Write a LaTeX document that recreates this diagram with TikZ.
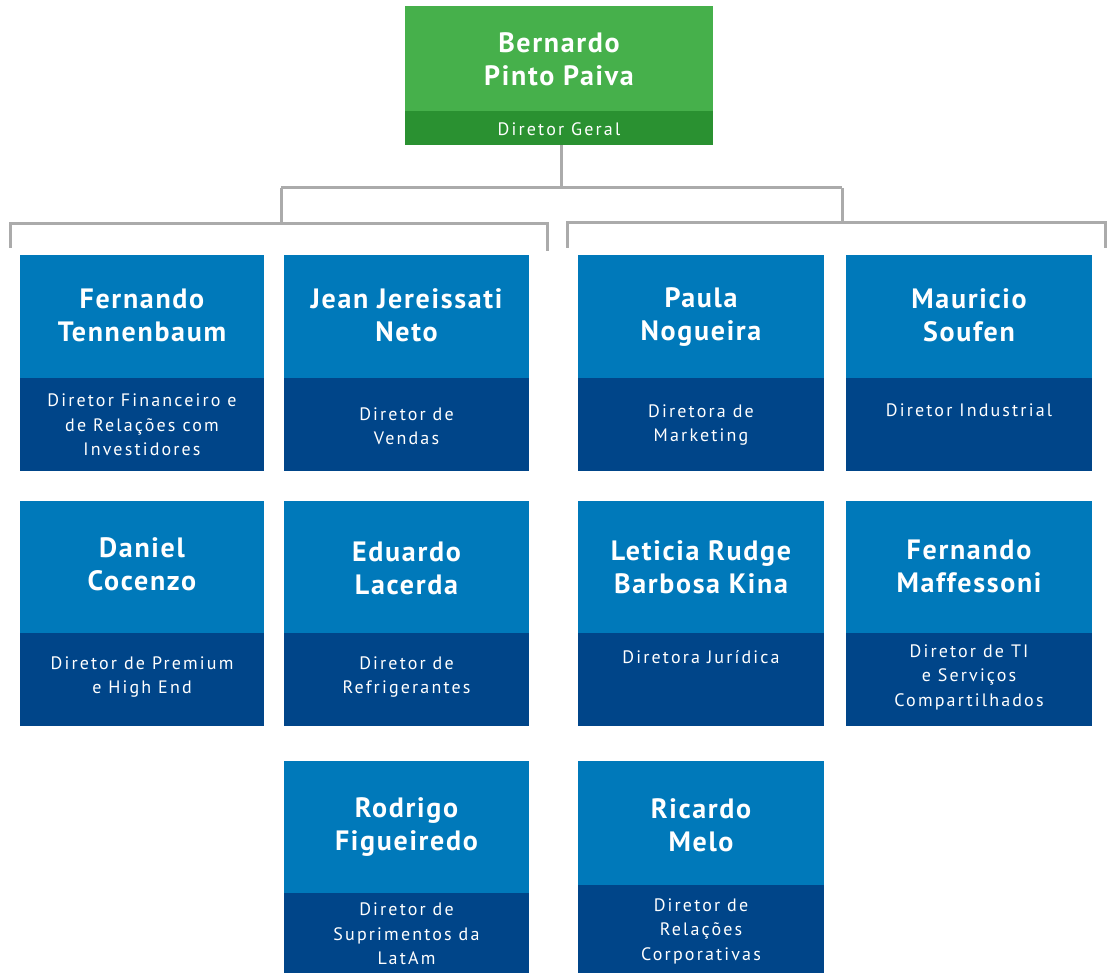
\documentclass[tikz,border=0pt]{standalone}
\usepackage{fontspec}
\setmainfont{PT Sans}
\newfontfamily\namefont{PT Sans}[LetterSpace=6]
\newfontfamily\subfont{PT Sans}[LetterSpace=12]
\definecolor{gtop}{HTML}{46B04B}
\definecolor{gband}{HTML}{2A9131}
\definecolor{btop}{HTML}{0079BA}
\definecolor{bband}{HTML}{004589}
\definecolor{conn}{HTML}{ABABAB}
\tikzset{
  topbox/.style={fill=#1, draw=none, inner sep=0, anchor=north west},
  nametext/.style={text=white, align=center, font=\namefont\bfseries\fontsize{28}{33}\selectfont, inner sep=0},
  subtext/.style={text=white, align=center, font=\subfont\fontsize{18}{24.5}\selectfont, inner sep=0},
  connector/.style={draw=conn, line width=3pt}
}
% \person{id}{x1}{x2}{ytop}{ymid}{ybot}{name}{namey}{sub}{suby}
\newcommand{\person}[9]{%
  \node[topbox=btop, minimum width=#3-#2, minimum height=#5-#4] (#1n) at (#2,#4) {};
  \node[topbox=bband, minimum width=#3-#2, minimum height=#6-#5] (#1b) at (#2,#5) {};
  \node[nametext] (#1t) at ({(#2+#3)/2},#8) {#7};
  \personsub{#1}{#2}{#3}{#9}%
}
\newcommand{\personsub}[4]{\def\psid{#1}\def\psxa{#2}\def\psxb{#3}\def\psy{#4}\personsubtext}
\newcommand{\personsubtext}[1]{\node[subtext] (\psid s) at ({(\psxa+\psxb)/2},\psy) {#1};}
\begin{document}
\begin{tikzpicture}[x=1pt,y=-1pt]
\useasboundingbox (0,0) rectangle (1107,973);
% top box
\node[topbox=gtop, minimum width=308, minimum height=105] (bpn) at (405,6) {};
\node[topbox=gband, minimum width=308, minimum height=34] (bpb) at (405,111) {};
\node[nametext] (bpt) at (559,59) {Bernardo\\Pinto Paiva};
\node[subtext] (bps) at (559,129) {Diretor Geral};
% connectors
\coordinate (hub) at (561,188);
\coordinate (lstem) at (281,188);
\coordinate (rstem) at (842,188);
\coordinate (lbar) at (281,224);
\coordinate (rbar) at (842,223);
\coordinate (la) at (10,224);
\coordinate (la2) at (10,248);
\coordinate (lb) at (547,224);
\coordinate (lb2) at (547,251);
\coordinate (ra) at (567,223);
\coordinate (ra2) at (567,248);
\coordinate (rb) at (1105,223);
\coordinate (rb2) at (1105,248);
\draw[connector] (bpb.south -| hub) -- (hub);
\draw[connector] (lstem) -- (rstem);
\draw[connector] (lstem) -- (lbar);
\draw[connector] (rstem) -- (rbar);
\draw[connector] (la2) -- (la) -- (lb) -- (lb2);
\draw[connector] (ra2) -- (ra) -- (rb) -- (rb2);
% row 1
\person{fe}{20}{264}{255}{378}{471}{Fernando\\Tennenbaum}{315}{425}{Diretor Financeiro e\\de Relações com\\Investidores}
\person{je}{284}{529}{255}{378}{471}{Jean Jereissati\\Neto}{315}{426}{Diretor de\\Vendas}
\person{pn}{578}{824}{255}{378}{471}{Paula\\Nogueira}{317}{425}{Diretora de\\Marketing}
\person{ms}{846}{1092}{255}{378}{471}{Mauricio\\Soufen}{315}{410}{Diretor Industrial}
% row 2
\person{dc}{20}{264}{501}{633}{726}{Daniel\\Cocenzo}{564}{677}{Diretor de Premium\\e High End}
\person{el}{284}{529}{501}{633}{726}{Eduardo\\Lacerda}{568}{677}{Diretor de\\Refrigerantes}
\person{lr}{578}{824}{501}{633}{726}{Leticia Rudge\\Barbosa Kina}{567}{657}{Diretora Jurídica}
\person{fm}{846}{1092}{501}{633}{726}{Fernando\\Maffessoni}{566}{677}{Diretor de TI\\e Serviços\\Compartilhados}
% row 3
\person{rf}{284}{529}{761}{893}{973}{Rodrigo\\Figueiredo}{827}{934}{Diretor de\\Suprimentos da\\LatAm}
\person{rm}{578}{824}{761}{885}{973}{Ricardo\\Melo}{825}{931}{Diretor de\\Relações\\Corporativas}
\end{tikzpicture}
\end{document}
